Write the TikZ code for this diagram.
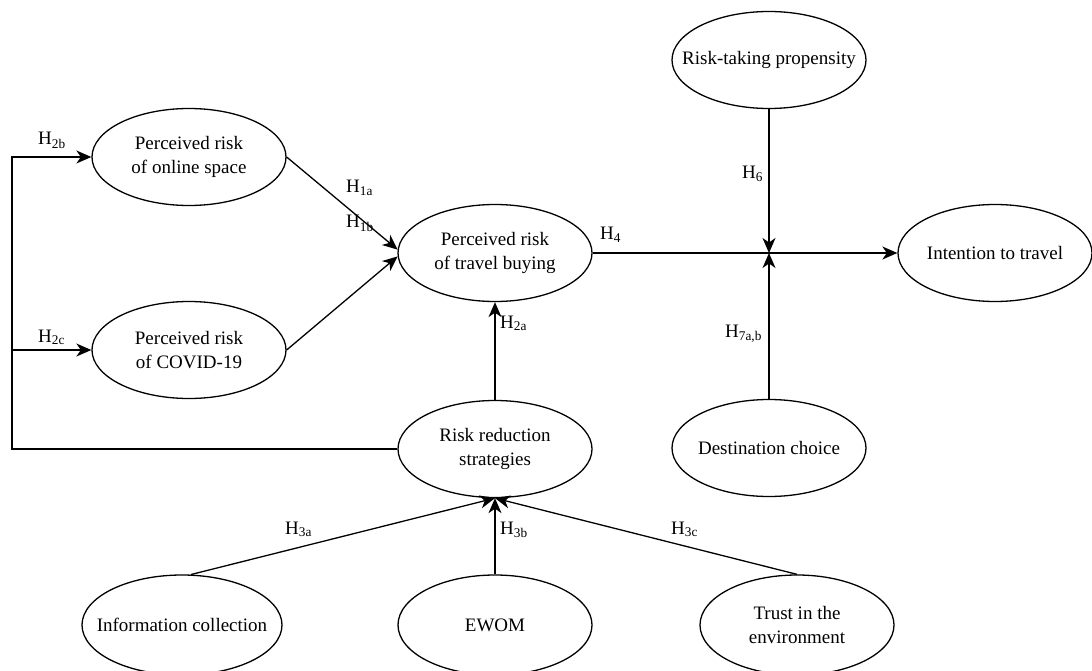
\documentclass[tikz,border=0pt]{standalone}
\usepackage{fontspec}
\setmainfont{Liberation Serif}
\usetikzlibrary{shapes.geometric,arrows.meta}

\begin{document}
\begin{tikzpicture}[x=1pt,y=-1pt,
  factor/.style={ellipse,draw,line width=1.3pt,inner sep=0pt,
    minimum width=194pt,minimum height=97pt},
  txt/.style={align=center,inner sep=0pt,
    font=\fontsize{19}{24}\selectfont},
  hyp/.style={anchor=base west,inner sep=0pt,
    font=\fontsize{19}{24}\selectfont},
  link/.style={line width=1.3pt},
  arr/.style={link,-{Stealth[length=15pt,width=13pt,inset=4.5pt]}}]

\useasboundingbox (0,0) rectangle (1092,671);

% constructs
\node[factor] (online) at (189,157) {};
\node[txt] (online-t) at (online) {Perceived risk\\of online space};
\node[factor] (covid) at (189,350) {};
\node[txt] (covid-t) at (covid) {Perceived risk\\of COVID-19};
\node[factor] (travel) at (495,253) {};
\node[txt] (travel-t) at (travel) {Perceived risk\\of travel buying};
\node[factor] (risktaking) at (769,60) {};
\node[txt] (risktaking-t) at (risktaking) {Risk-taking propensity};
\node[factor] (intention) at (995,253) {};
\node[txt] (intention-t) at (intention) {Intention to travel};
\node[factor] (rrs) at (495,449) {};
\node[txt] (rrs-t) at (rrs) {Risk reduction\\strategies};
\node[factor] (dest) at (769,448) {};
\node[txt] (dest-t) at (dest) {Destination choice};
\node[factor,minimum width=200pt,minimum height=100pt] (info) at (182,625) {};
\node[txt] (info-t) at (info) {Information collection};
\node[factor,minimum height=100pt] (ewom) at (495,625) {};
\node[txt] (ewom-t) at (ewom) {EWOM};
\node[factor,minimum height=100pt] (trust) at (797,625) {};
\node[txt] (trust-t) at (trust) {Trust in the\\environment};

% routing points
\coordinate (corner) at (12,449);
\coordinate (jn) at (risktaking |- travel);

% paths
\draw[arr] (rrs.west) -- (corner) |- (online.west);
\draw[arr] (corner |- covid.west) -- (covid.west);
\draw[arr] (online.east) -- (travel.178);
\draw[arr] (covid.east) -- (travel.182);
\draw[arr] (rrs.north) -- (travel.south);
\draw[arr] (travel.east) -- (intention.west);
\draw[arr] (risktaking.south) -- (jn);
\draw[arr] (dest.north) -- (jn);
\draw[arr] (info.80) -- (rrs.south);
\draw[arr] (ewom.north) -- (rrs.south);
\draw[arr] (trust.north) -- (rrs.south);

% hypothesis labels
\node[hyp] (h2b) at (38,145) {H\textsubscript{2b}};
\node[hyp] (h2c) at (38,342) {H\textsubscript{2c}};
\node[hyp] (h1a) at (346,193) {H\textsubscript{1a}};
\node[hyp] (h1b) at (346,228) {H\textsubscript{1b}};
\node[hyp] (h2a) at (500,328) {H\textsubscript{2a}};
\node[hyp] (h4) at (600,240) {H\textsubscript{4}};
\node[hyp] (h6) at (742,179) {H\textsubscript{6}};
\node[hyp] (h7) at (725,337) {H\textsubscript{7a,b}};
\node[hyp] (h3a) at (285,534) {H\textsubscript{3a}};
\node[hyp] (h3b) at (500,534) {H\textsubscript{3b}};
\node[hyp] (h3c) at (671,534) {H\textsubscript{3c}};
\end{tikzpicture}
\end{document}
